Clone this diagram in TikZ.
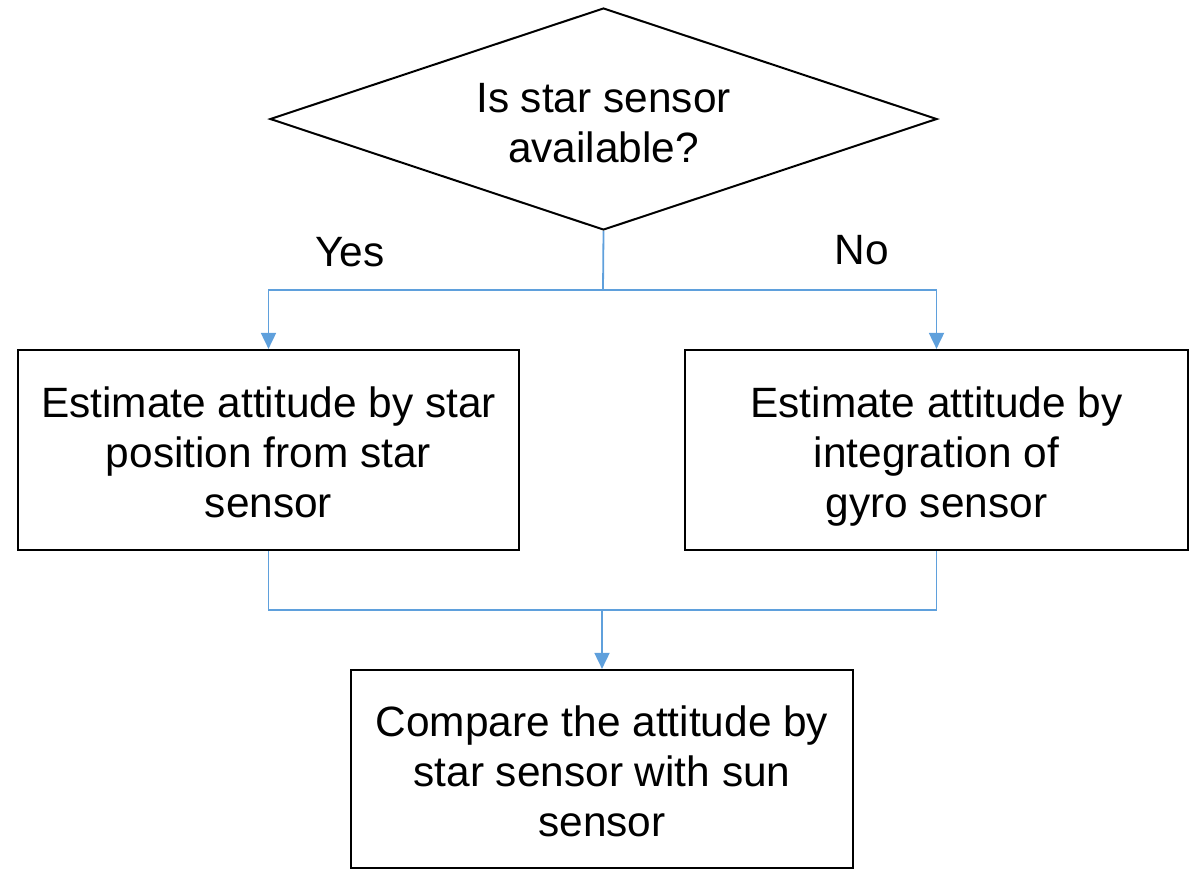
\documentclass[tikz,border=0pt]{standalone}
\usepackage{fontspec}
\setmainfont{Liberation Sans}
\usetikzlibrary{arrows.meta,shapes.geometric}
\definecolor{linkblue}{RGB}{95,160,220}
% invisible rules that fix the extent above the first and below the last line
\newcommand\topfix[1]{\rule{0pt}{#1}}
\newcommand\botfix[1]{\rule[-#1]{0pt}{#1}}
\tikzset{
  every node/.style={font=\fontsize{42.4}{50}\selectfont},
  procbox/.style={draw=black, line width=2.2pt, rectangle, align=center, inner sep=0pt},
  decision/.style={draw=black, line width=2pt, diamond, align=center, inner sep=0pt},
  conn/.style={draw=linkblue, line width=1.8pt},
  arrowconn/.style={conn, -{Triangle[length=16pt, width=15pt]}},
  lbl/.style={inner sep=0pt}
}
\begin{document}
\begin{tikzpicture}[x=1pt, y=-1pt]
\useasboundingbox (0,0) rectangle (1191,871);

% decision
\node[decision, minimum width=667pt, minimum height=222pt, aspect=3] (q) at (603.5,119)
  {\topfix{38pt}Is star sensor\\available?};

% process boxes
\node[procbox, minimum width=501pt, minimum height=200pt] (star) at (268.5,450)
  {\topfix{44pt}Estimate attitude by star\\position from star\\sensor\botfix{10pt}};
\node[procbox, minimum width=503pt, minimum height=200pt] (gyro) at (936.5,450)
  {\topfix{44pt}Estimate attitude by\\integration of\\gyro sensor\botfix{10pt}};
\node[procbox, minimum width=502pt, minimum height=198pt] (cmp) at (602,769)
  {\topfix{45pt}Compare the attitude by\\star sensor with sun\\sensor\botfix{10pt}};

% branch labels
\node[lbl] (yes) at (350,252) {Yes};
\node[lbl] (no) at (862,250) {No};

% split and merge points
\coordinate (split) at (603,290);
\coordinate (merge) at (602,610);

% connectors
\draw[conn] (q.south) -- (split);
\draw[arrowconn] (split) -| (star.north);
\draw[arrowconn] (split) -| (gyro.north);
\draw[conn] (star.south) |- (merge);
\draw[conn] (gyro.south) |- (merge);
\draw[arrowconn] (merge) -- (cmp.north);
\end{tikzpicture}
\end{document}
